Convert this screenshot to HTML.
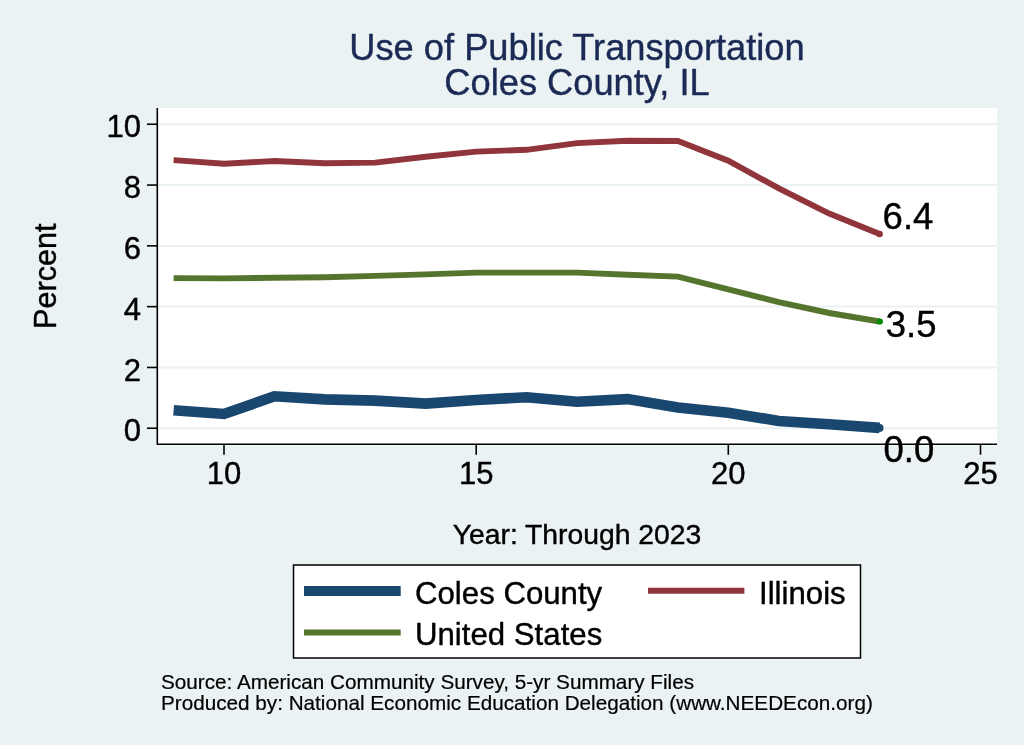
<!DOCTYPE html>
<html><head><meta charset="utf-8"><style>
html,body{margin:0;padding:0;background:#eaf2f3;}
svg{display:block;will-change:transform;}
text{font-family:"Liberation Sans", sans-serif;stroke:currentColor;stroke-width:0.4px;}
</style></head><body>
<svg width="1024" height="745" viewBox="0 0 1024 745">
<rect x="0" y="0" width="1024" height="745" fill="#eaf2f3"/>

<rect x="157" y="108" width="840" height="337.5" fill="#ffffff"/>
<line x1="158" x2="997" y1="428.2" y2="428.2" stroke="#eaf2f3" stroke-width="2"/>
<line x1="158" x2="997" y1="367.4" y2="367.4" stroke="#eaf2f3" stroke-width="2"/>
<line x1="158" x2="997" y1="306.6" y2="306.6" stroke="#eaf2f3" stroke-width="2"/>
<line x1="158" x2="997" y1="245.9" y2="245.9" stroke="#eaf2f3" stroke-width="2"/>
<line x1="158" x2="997" y1="185.1" y2="185.1" stroke="#eaf2f3" stroke-width="2"/>
<line x1="158" x2="997" y1="124.2" y2="124.2" stroke="#eaf2f3" stroke-width="2"/>
<polyline points="173.6,160.1 224.0,163.8 274.4,161.0 324.9,163.2 375.3,162.6 425.7,156.8 476.2,151.6 526.6,149.8 577.0,143.1 627.5,140.7 677.9,141.0 728.3,160.7 778.8,188.4 829.2,213.6 879.6,234.0" fill="none" stroke="#90353b" stroke-width="5.9" stroke-linejoin="miter"/>
<polyline points="173.6,278.1 224.0,278.4 274.4,277.8 324.9,277.2 375.3,275.9 425.7,274.4 476.2,272.6 526.6,272.6 577.0,272.6 627.5,274.7 677.9,276.6 728.3,289.3 778.8,302.1 829.2,313.0 879.6,321.5" fill="none" stroke="#55752f" stroke-width="5.9" stroke-linejoin="miter"/>
<polyline points="173.6,410.3 224.0,414.0 274.4,396.3 324.9,399.4 375.3,400.6 425.7,403.6 476.2,400.0 526.6,397.2 577.0,401.8 627.5,399.1 677.9,407.6 728.3,412.7 778.8,421.0 829.2,424.3 879.6,427.9" fill="none" stroke="#1a476f" stroke-width="10.6" stroke-linejoin="miter"/>
<circle cx="879.6" cy="234.0" r="3.3" fill="#90353b"/>
<circle cx="879.9" cy="321.5" r="3.1" fill="#008c00"/>
<circle cx="879.6" cy="427.9" r="3.9" fill="#1a476f"/>
<path d="M157.3,108 V444.3 H997" fill="none" stroke="#000" stroke-width="1.6" stroke-linejoin="round"/>
<line x1="147" x2="157.3" y1="428.25" y2="428.25" stroke="#000" stroke-width="1.6"/>
<text x="141" y="441.4" font-size="31" text-anchor="end">0</text>
<line x1="147" x2="157.3" y1="367.45" y2="367.45" stroke="#000" stroke-width="1.6"/>
<text x="141" y="380.6" font-size="31" text-anchor="end">2</text>
<line x1="147" x2="157.3" y1="306.65" y2="306.65" stroke="#000" stroke-width="1.6"/>
<text x="141" y="319.8" font-size="31" text-anchor="end">4</text>
<line x1="147" x2="157.3" y1="245.85" y2="245.85" stroke="#000" stroke-width="1.6"/>
<text x="141" y="259.1" font-size="31" text-anchor="end">6</text>
<line x1="147" x2="157.3" y1="185.05" y2="185.05" stroke="#000" stroke-width="1.6"/>
<text x="141" y="198.2" font-size="31" text-anchor="end">8</text>
<line x1="147" x2="157.3" y1="124.25" y2="124.25" stroke="#000" stroke-width="1.6"/>
<text x="141" y="137.4" font-size="31" text-anchor="end">10</text>
<line x1="224.0" x2="224.0" y1="444.3" y2="454.8" stroke="#000" stroke-width="1.6"/>
<text x="224.0" y="483.8" font-size="31" text-anchor="middle">10</text>
<line x1="476.2" x2="476.2" y1="444.3" y2="454.8" stroke="#000" stroke-width="1.6"/>
<text x="476.2" y="483.8" font-size="31" text-anchor="middle">15</text>
<line x1="728.3" x2="728.3" y1="444.3" y2="454.8" stroke="#000" stroke-width="1.6"/>
<text x="728.3" y="483.8" font-size="31" text-anchor="middle">20</text>
<line x1="980.5" x2="980.5" y1="444.3" y2="454.8" stroke="#000" stroke-width="1.6"/>
<text x="980.5" y="483.8" font-size="31" text-anchor="middle">25</text>
<text x="882.6" y="229" font-size="36.5">6.4</text>
<text x="885.8" y="337" font-size="36.5">3.5</text>
<text x="883.5" y="462" font-size="36.5">0.0</text>
<text x="577" y="60" font-size="36.25" fill="#1b2a55" style="color:#1b2a55" text-anchor="middle">Use of Public Transportation</text>
<text x="577" y="95" font-size="36.25" fill="#1b2a55" style="color:#1b2a55" text-anchor="middle">Coles County, IL</text>
<text x="0" y="0" font-size="30.6" text-anchor="middle" transform="translate(55.8,276.2) rotate(-90)">Percent</text>
<text x="577" y="544" font-size="28.3" text-anchor="middle">Year: Through 2023</text>
<rect x="293.5" y="565" width="567" height="93" fill="#fff" stroke="#000" stroke-width="1.5"/>
<line x1="304" x2="400.7" y1="591" y2="591" stroke="#1a476f" stroke-width="10"/>
<line x1="304" x2="400.7" y1="632.4" y2="632.4" stroke="#55752f" stroke-width="6"/>
<line x1="648" x2="744.4" y1="590.8" y2="590.8" stroke="#90353b" stroke-width="6"/>
<text x="415" y="604" font-size="31.2">Coles County</text>
<text x="415" y="645" font-size="31.2">United States</text>
<text x="759" y="604" font-size="31.2">Illinois</text>
<text x="161" y="689" font-size="20.7" style="stroke-width:0.2px">Source: American Community Survey, 5-yr Summary Files</text>
<text x="161" y="709.5" font-size="20.7" style="stroke-width:0.2px">Produced by: National Economic Education Delegation (www.NEEDEcon.org)</text>
</svg>
</body></html>
